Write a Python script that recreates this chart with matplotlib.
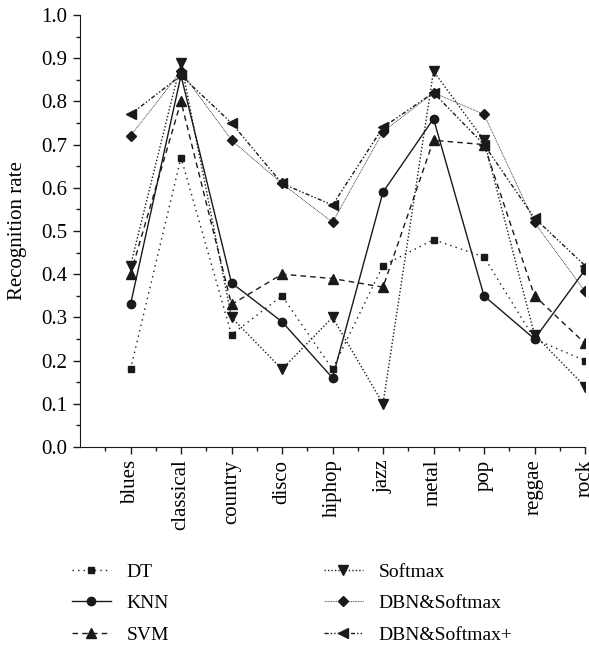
import matplotlib
matplotlib.use("Agg")
import matplotlib.pyplot as plt
from matplotlib.ticker import MultipleLocator, FixedLocator

genres = ["blues", "classical", "country", "disco", "hiphop", "jazz", "metal", "pop", "reggae", "rock"]
dt = [0.18, 0.67, 0.26, 0.35, 0.18, 0.42, 0.48, 0.44, 0.25, 0.20]
knn = [0.33, 0.86, 0.38, 0.29, 0.16, 0.59, 0.76, 0.35, 0.25, 0.41]
svm = [0.40, 0.80, 0.33, 0.40, 0.39, 0.37, 0.71, 0.70, 0.35, 0.24]
softmax = [0.42, 0.89, 0.30, 0.18, 0.30, 0.10, 0.87, 0.71, 0.26, 0.14]
dbn = [0.72, 0.87, 0.71, 0.61, 0.52, 0.73, 0.82, 0.77, 0.52, 0.36]
dbn_plus = [0.77, 0.86, 0.75, 0.61, 0.56, 0.74, 0.82, 0.70, 0.53, 0.42]

plt.rcParams["font.family"] = ["Liberation Serif", "DejaVu Serif"]
plt.rcParams["font.size"] = 14

fig = plt.figure(figsize=(5.89, 6.52), dpi=100)
ax = fig.add_axes([80/589, 1-447/652, 505/589, 432/652])

x = list(range(len(genres)))
c = "#1a1a1a"
lw = 1.0
h1 = ax.plot(x, dt, linestyle=(0, (1, 3)), marker="s", ms=5, color=c, lw=lw, label="DT")[0]
h2 = ax.plot(x, knn, linestyle="-", marker="o", ms=6, color=c, lw=lw, label="KNN")[0]
h3 = ax.plot(x, svm, linestyle=(0, (4, 3)), marker="^", ms=6.5, color=c, lw=lw, label="SVM")[0]
h4 = ax.plot(x, softmax, linestyle=(0, (1, 1.5)), marker="v", ms=6.5, color=c, lw=lw, label="Softmax")[0]
h5 = ax.plot(x, dbn, linestyle=(0, (1, 1)), marker="D", ms=5, color=c, lw=0.6, label="DBN&Softmax")[0]
h6 = ax.plot(x, dbn_plus, linestyle=(0, (3, 1.5, 1, 1.5, 1, 1.5)), marker="<", ms=6.5, color=c, lw=lw, label="DBN&Softmax+")[0]

ax.set_xlim(-1, 9)
ax.set_ylim(0, 1.0)
ax.set_xticks(x)
ax.set_xticklabels(genres, rotation=90, fontsize=15)
ax.xaxis.set_minor_locator(FixedLocator([i - 0.5 for i in range(len(genres))]))
ax.yaxis.set_major_locator(MultipleLocator(0.1))
ax.yaxis.set_minor_locator(MultipleLocator(0.05))
ax.set_yticklabels([f"{v:.1f}" for v in ax.get_yticks()], fontsize=15)
ax.tick_params(which="major", direction="out", length=5, width=1, color=c, pad=4)
ax.tick_params(which="minor", direction="out", length=3, width=1, color=c)
ax.spines["top"].set_visible(False)
ax.spines["right"].set_visible(False)
ax.spines["left"].set_color(c)
ax.spines["bottom"].set_color(c)
ax.set_ylabel("Recognition rate", fontsize=15)
ax.yaxis.set_label_coords(-0.105, 0.5)

leg_kw = dict(frameon=False, fontsize=14, handlelength=2.0, labelspacing=0.72,
              handletextpad=0.8, borderaxespad=0, borderpad=0)
leg1 = fig.legend(handles=[h1, h2, h3], loc="upper left",
                  bbox_to_anchor=(72/589, 1-563/652), **leg_kw)
leg2 = fig.legend(handles=[h4, h5, h6], loc="upper left",
                  bbox_to_anchor=(324/589, 1-563/652), **leg_kw)

fig.savefig("out.png", dpi=100)
